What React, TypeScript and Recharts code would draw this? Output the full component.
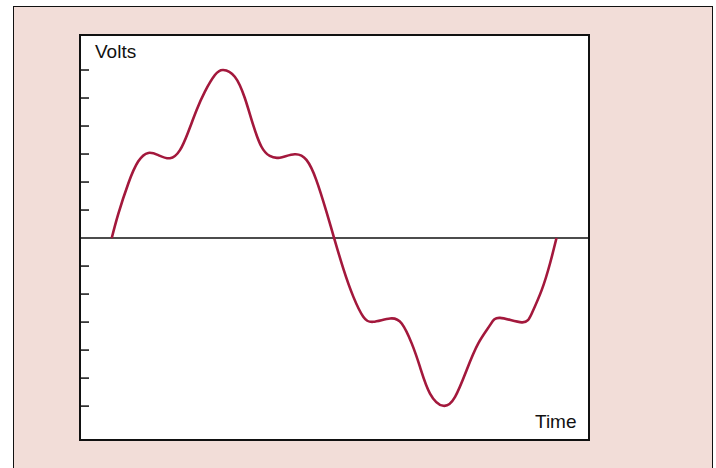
import React from 'react';
import { LineChart, Line, XAxis, YAxis, ReferenceLine } from 'recharts';

// phase angle (degrees) of one full cycle
const timeDeg = [
  0, 5.3, 13.4, 21.5, 29.6, 37.7, 47.1, 55.2, 61.9, 68.7, 75.4, 83.5, 90.2,
  99.6, 107.7, 114.4, 121.2, 127.9, 136, 148.1, 157.6, 165.6, 173.7, 180,
  187.5, 195.6, 203.6, 211.7, 225.3, 234.7, 242.8, 249.5, 257.6, 268.4,
  277.9, 287.3, 296.7, 306.2, 314.3, 331.9, 340, 348, 354.8, 360,
];

// volts, one tick = 1 unit
const volts = [
  0, 0.86, 1.95, 2.74, 3.04, 2.96, 2.85, 3.14, 3.79, 4.57, 5.23, 5.82, 6.0,
  5.76, 5.0, 4.05, 3.26, 2.93, 2.87, 2.99, 2.79, 2.07, 0.95, 0,
  -1.1, -2.1, -2.81, -2.99, -2.87, -3.05, -3.76, -4.6, -5.55, -5.99,
  -5.67, -4.71, -3.76, -3.11, -2.85, -3.01, -2.69, -1.86, -0.9, 0,
];

const voltTicks = [-6, -5, -4, -3, -2, -1, 1, 2, 3, 4, 5, 6];

const data = timeDeg.map((t, i) => ({ t, v: volts[i] }));

const font = '"Liberation Sans", Arial, Helvetica, sans-serif';

export default function App() {
  return (
    <div style={{ position: 'absolute', left: 0, top: 0, width: 716, height: 468, overflow: 'hidden', background: '#fff' }}>
      {/* pink panel */}
      <div
        style={{
          position: 'absolute',
          left: 13,
          top: 6,
          width: 700,
          height: 500,
          boxSizing: 'border-box',
          border: '1.5px solid #111',
          background: '#f2ddd8',
        }}
      />
      {/* plot */}
      <div style={{ position: 'absolute', left: 80, top: 35, width: 508, height: 405, background: '#fff' }}>
        <LineChart width={508} height={405} data={data} margin={{ top: 0, right: 0, bottom: 0, left: 0 }}>
          <XAxis type="number" dataKey="t" domain={[-25.7, 385.5]} allowDataOverflow hide />
          <YAxis
            type="number"
            domain={[-7.21, 7.25]}
            allowDataOverflow
            ticks={voltTicks}
            interval={0}
            mirror
            axisLine={false}
            tickSize={9}
            tickLine={{ stroke: '#111', strokeWidth: 1.5 }}
            tickFormatter={() => ''}
          />
          <ReferenceLine y={0} stroke="#111" strokeWidth={1.4} />
          <Line
            type="natural"
            dataKey="v"
            stroke="#a3183c"
            strokeWidth={2.6}
            dot={false}
            isAnimationActive={false}
          />
        </LineChart>
      </div>
      {/* plot frame */}
      <div
        style={{
          position: 'absolute',
          left: 79,
          top: 34,
          width: 510.5,
          height: 407,
          boxSizing: 'border-box',
          border: '2px solid #111',
          pointerEvents: 'none',
        }}
      />
      <div style={{ position: 'absolute', left: 95, top: 41.4, fontFamily: font, fontSize: 19, color: '#111', lineHeight: '22px' }}>
        Volts
      </div>
      <div style={{ position: 'absolute', left: 535, top: 411.4, fontFamily: font, fontSize: 19, color: '#111', lineHeight: '22px' }}>
        Time
      </div>
    </div>
  );
}
